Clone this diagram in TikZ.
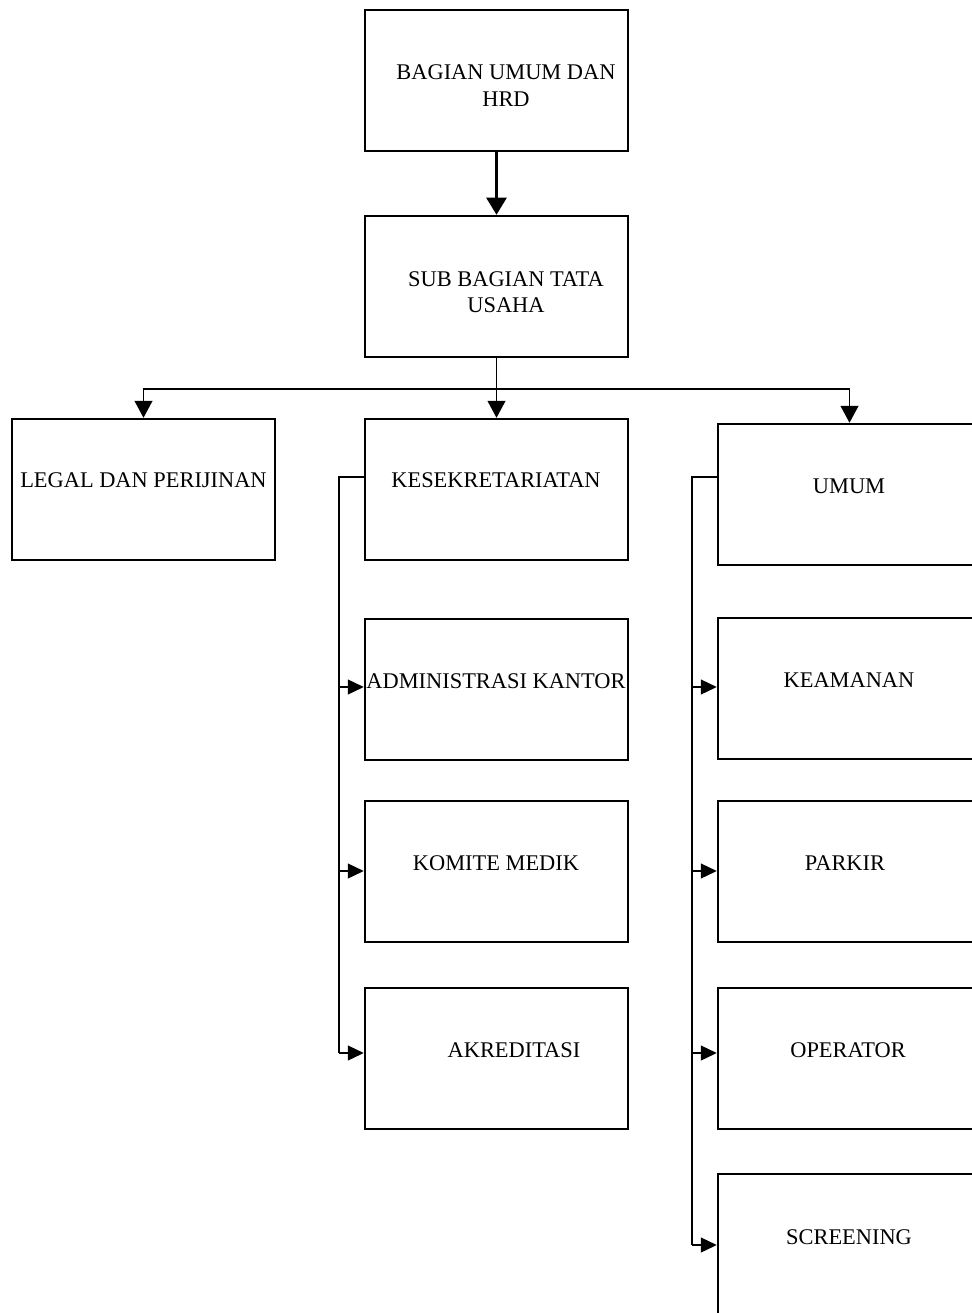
\documentclass[tikz,border=0pt]{standalone}
\usepackage{fontspec}
\setmainfont{Liberation Serif}
\usetikzlibrary{arrows.meta}
\begin{document}
\begin{tikzpicture}[x=1pt,y=-1pt,
  unit/.style={draw=black,line width=2.5pt,minimum width=263pt,minimum height=141pt,inner sep=0pt},
  lbl/.style={font=\fontsize{22.4}{26.5}\selectfont,inner sep=0pt,align=center},
  link/.style={line width=1.2pt},
  bigarrow/.style={line width=2.6pt,-{Triangle[length=17pt,width=20pt]}},
  droparrow/.style={link,-{Triangle[length=17pt,width=18pt]}},
  sidearrow/.style={link,-{Triangle[length=16pt,width=15pt]}}]
\useasboundingbox (0,0) rectangle (971,1313);

% boxes
\node[unit] (top) at (496.5,80.5) {};
\node[unit] (sub) at (496.5,286.5) {};
\node[unit] (legal) at (143.5,489.5) {};
\node[unit] (kes) at (496.5,489.5) {};
\node[unit] (umum) at (849.5,494.5) {};
\node[unit] (admin) at (496.5,689.5) {};
\node[unit] (komite) at (496.5,871.5) {};
\node[unit] (akr) at (496.5,1058.5) {};
\node[unit] (keam) at (849.5,688.5) {};
\node[unit] (parkir) at (849.5,871.5) {};
\node[unit] (oper) at (849.5,1058.5) {};
\node[unit] (scr) at (849.5,1244.5) {};

% labels
\node[lbl] (t-top) at (506,85.5) {BAGIAN UMUM DAN\\HRD};
\node[lbl] (t-sub) at (506,292) {SUB BAGIAN TATA\\USAHA};
\node[lbl,anchor=base] (t-legal) at (143.5,487) {LEGAL DAN PERIJINAN};
\node[lbl,anchor=base] (t-kes) at (496,487) {KESEKRETARIATAN};
\node[lbl,anchor=base] (t-umum) at (849,493) {UMUM};
\node[lbl,anchor=base] (t-admin) at (496,688) {ADMINISTRASI KANTOR};
\node[lbl,anchor=base] (t-komite) at (496,870) {KOMITE MEDIK};
\node[lbl,anchor=base] (t-akr) at (514,1057) {AKREDITASI};
\node[lbl,anchor=base] (t-keam) at (849,687) {KEAMANAN};
\node[lbl,anchor=base] (t-parkir) at (845,870) {PARKIR};
\node[lbl,anchor=base] (t-oper) at (848,1057) {OPERATOR};
\node[lbl,anchor=base] (t-scr) at (849,1244) {SCREENING};

% top link
\draw[bigarrow] (top.south) -- (sub.north);

% distribution bar
\coordinate (bar) at (496.5,389);
\draw[link] (sub.south) -- (bar);
\draw[droparrow] (bar) -- (kes.north);
\draw[droparrow] (bar) -| (legal.north);
\draw[droparrow] (bar) -| (umum.north);

% left bracket
\coordinate (lb) at (339,477);
\coordinate (lbend) at (339,1053);
\draw[link] (kes.west |- lb) -- (lb) -- (lbend);
\draw[sidearrow] (lb |- 0,687) -- (admin.west |- 0,687);
\draw[sidearrow] (lb |- 0,871) -- (komite.west |- 0,871);
\draw[sidearrow] (lbend) -- (akr.west |- lbend);

% right bracket
\coordinate (rb) at (692,477);
\coordinate (rbend) at (692,1245);
\draw[link] (umum.west |- rb) -- (rb) -- (rbend);
\draw[sidearrow] (rb |- 0,687) -- (keam.west |- 0,687);
\draw[sidearrow] (rb |- 0,871) -- (parkir.west |- 0,871);
\draw[sidearrow] (rb |- 0,1053) -- (oper.west |- 0,1053);
\draw[sidearrow] (rbend) -- (scr.west |- rbend);
\end{tikzpicture}
\end{document}
